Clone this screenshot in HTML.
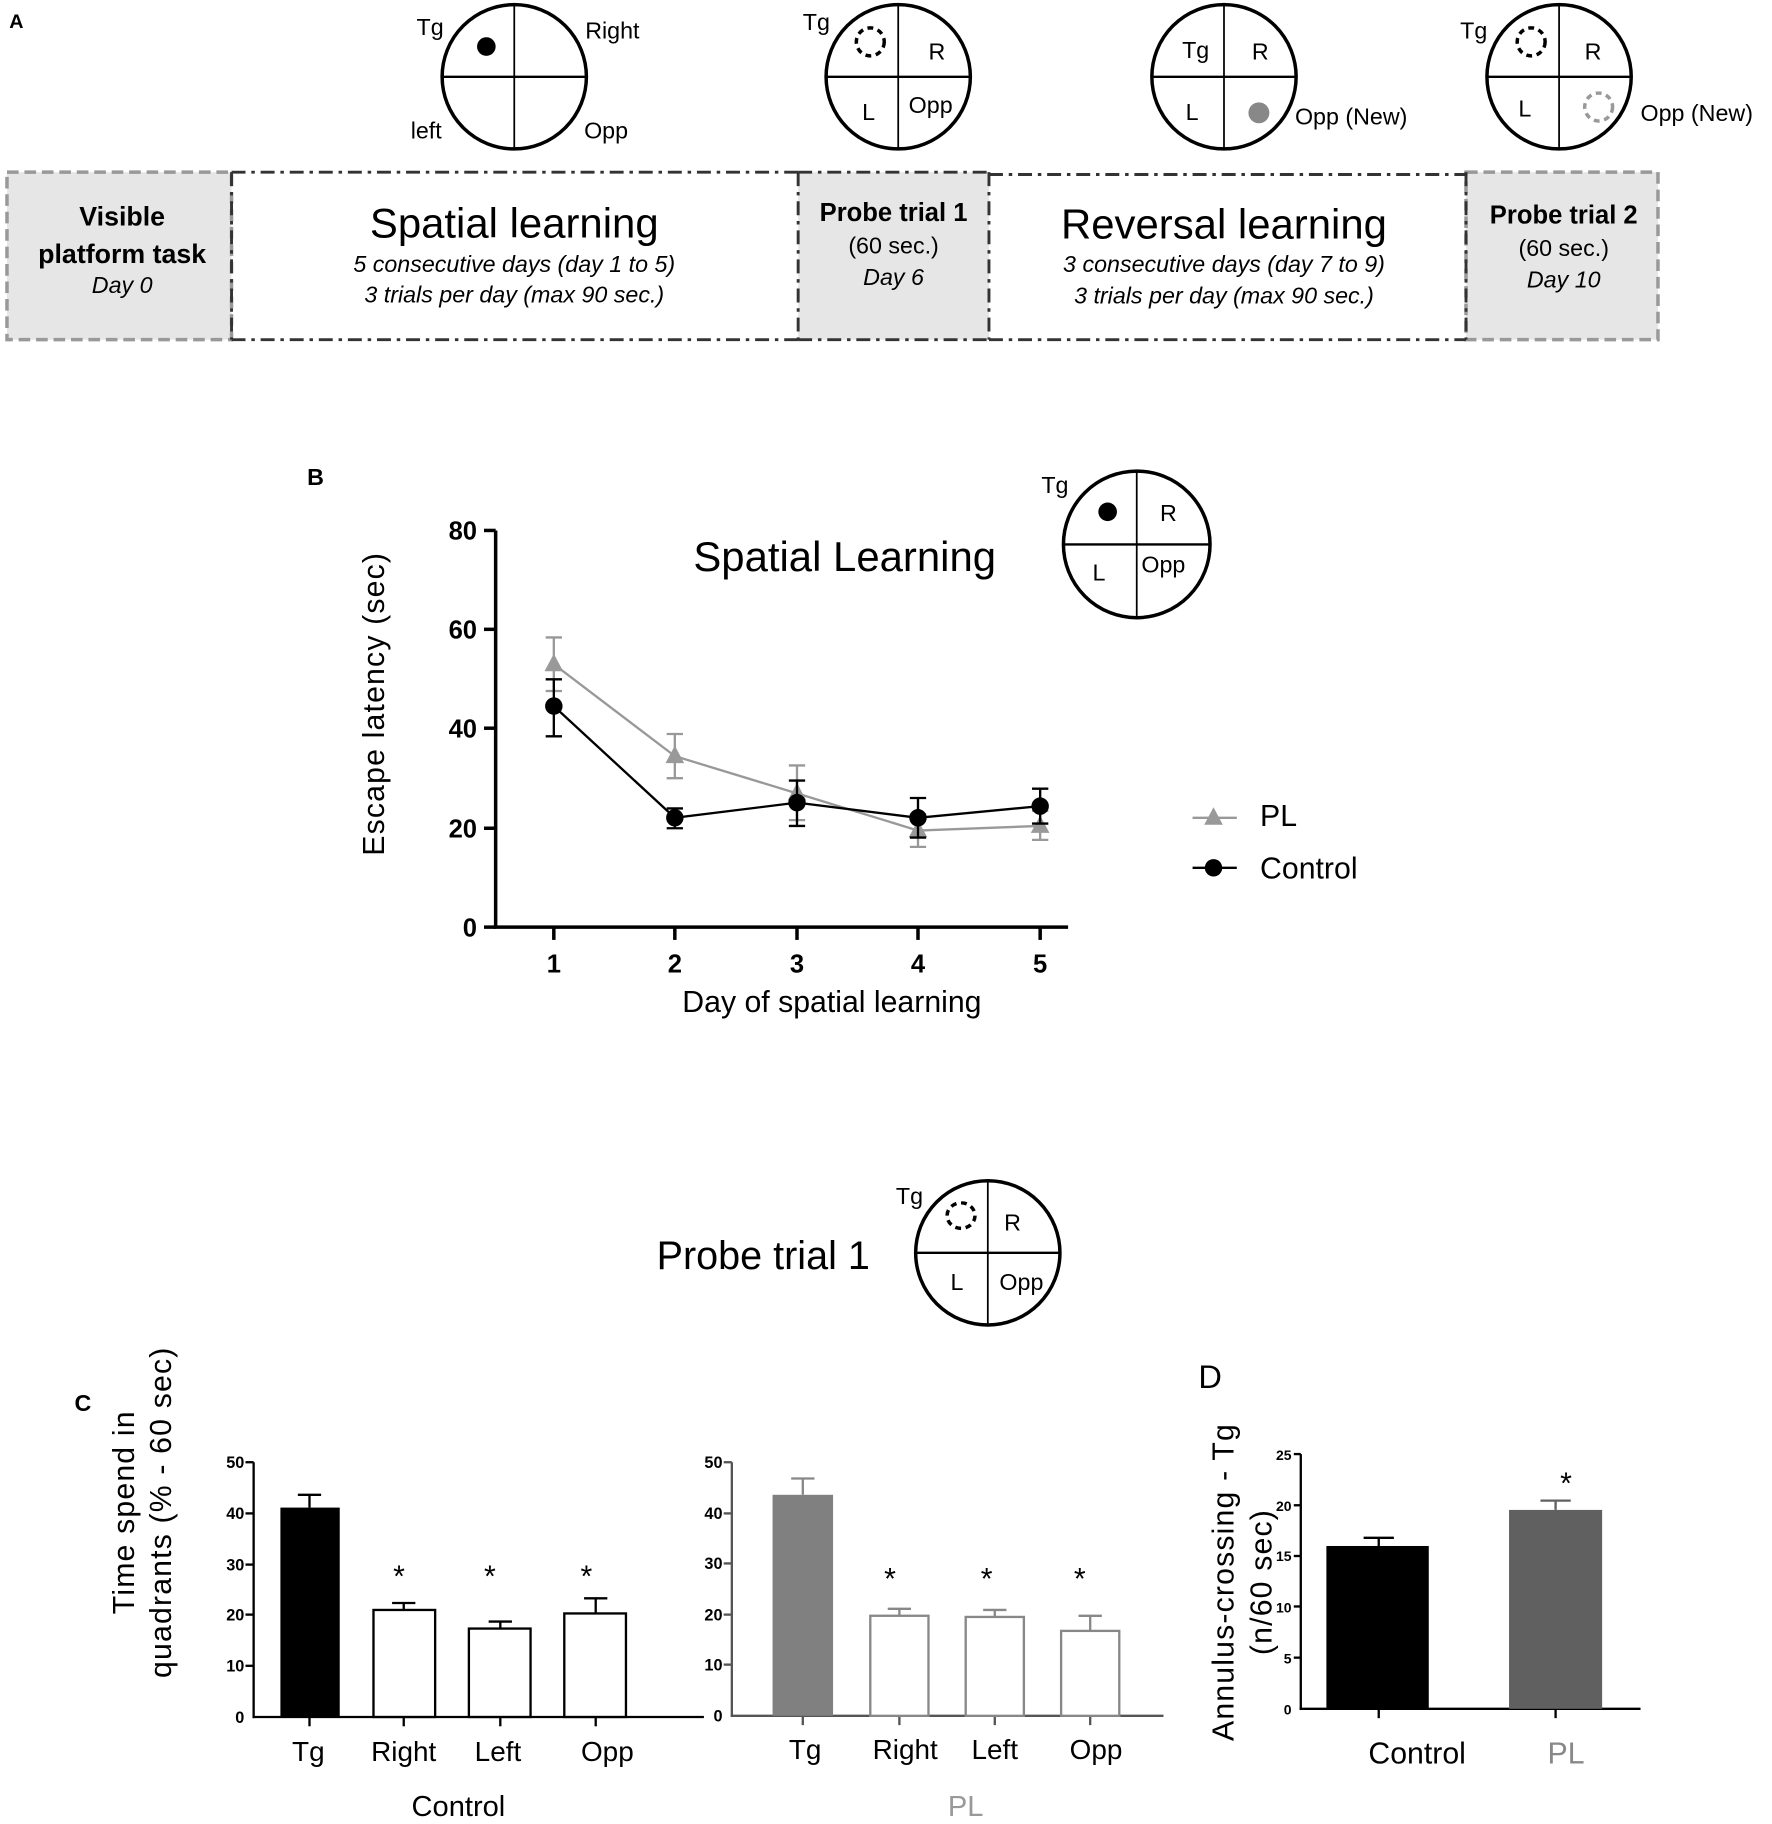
<!DOCTYPE html>
<html><head><meta charset="utf-8"><style>
html,body{margin:0;padding:0;background:#fff;}
svg{display:block;}
text{font-family:"Liberation Sans",Arial,sans-serif;}
</style></head><body>
<svg width="1772" height="1824" viewBox="0 0 1523 1568" preserveAspectRatio="none" xmlns="http://www.w3.org/2000/svg">
<rect width="1523" height="1568" fill="#fff"/>
<!-- Panel A -->
<text x="8" y="24" font-size="17" font-weight="bold">A</text>
<g stroke="#000" fill="none">
<circle cx="442" cy="66" r="62" stroke-width="3"/><line x1="380" y1="66" x2="504" y2="66" stroke-width="2"/><line x1="442" y1="4" x2="442" y2="128" stroke-width="1.5"/>
<circle cx="772" cy="66" r="62" stroke-width="3"/><line x1="710" y1="66" x2="834" y2="66" stroke-width="2"/><line x1="772" y1="4" x2="772" y2="128" stroke-width="1.5"/>
<circle cx="1052" cy="66" r="62" stroke-width="3"/><line x1="990" y1="66" x2="1114" y2="66" stroke-width="2"/><line x1="1052" y1="4" x2="1052" y2="128" stroke-width="1.5"/>
<circle cx="1340" cy="66" r="62" stroke-width="3"/><line x1="1278" y1="66" x2="1402" y2="66" stroke-width="2"/><line x1="1340" y1="4" x2="1340" y2="128" stroke-width="1.5"/>
<circle cx="748" cy="36" r="12" stroke-width="3" stroke-dasharray="5,4"/>
<circle cx="1316" cy="36" r="12" stroke-width="3" stroke-dasharray="5,4"/>
<circle cx="1374" cy="92" r="12" stroke-width="3" stroke-dasharray="5,4" stroke="#999"/>
</g>
<circle cx="418" cy="40" r="8" fill="#000"/>
<circle cx="1082" cy="97" r="9" fill="#888"/>
<g font-size="20">
<text x="358" y="30">Tg</text><text x="503" y="33">Right</text><text x="353" y="119">left</text><text x="502" y="119">Opp</text>
<text x="690" y="26">Tg</text><text x="798" y="51">R</text><text x="741" y="103">L</text><text x="781" y="97">Opp</text>
<text x="1016" y="50">Tg</text><text x="1076" y="51">R</text><text x="1019" y="103">L</text><text x="1113" y="107">Opp (New)</text>
<text x="1255" y="33">Tg</text><text x="1362" y="51">R</text><text x="1305" y="100">L</text><text x="1410" y="104">Opp (New)</text>
</g>
<rect x="6" y="148" width="193" height="144" fill="#e6e6e6" stroke="#999" stroke-width="3" stroke-dasharray="10,5"/>
<rect x="686" y="148" width="164" height="144" fill="#e6e6e6"/>
<rect x="1260" y="148" width="165" height="144" fill="#e6e6e6" stroke="#999" stroke-width="3" stroke-dasharray="10,5"/>
<g stroke="#333" stroke-width="2.5" fill="none" stroke-dasharray="12,5,3,5">
<line x1="199" y1="148" x2="686" y2="148"/><line x1="199" y1="292" x2="686" y2="292"/>
<line x1="850" y1="150" x2="1260" y2="150"/><line x1="850" y1="292" x2="1260" y2="292"/>
<line x1="199" y1="148" x2="199" y2="292"/><line x1="686" y1="148" x2="686" y2="292"/>
<line x1="850" y1="148" x2="850" y2="292"/><line x1="1260" y1="148" x2="1260" y2="292"/>
<line x1="686" y1="148" x2="850" y2="148"/><line x1="686" y1="292" x2="850" y2="292"/>
</g>
<g text-anchor="middle">
<text x="105" y="194" font-size="23" font-weight="bold">Visible</text>
<text x="105" y="226" font-size="23" font-weight="bold">platform task</text>
<text x="105" y="252" font-size="20" font-style="italic">Day 0</text>
<text x="442" y="204" font-size="36">Spatial learning</text>
<text x="442" y="234" font-size="20" font-style="italic">5 consecutive days (day 1 to 5)</text>
<text x="442" y="260" font-size="20" font-style="italic">3 trials per day (max 90 sec.)</text>
<text x="768" y="190" font-size="22" font-weight="bold">Probe trial 1</text>
<text x="768" y="218" font-size="20">(60 sec.)</text>
<text x="768" y="245" font-size="20" font-style="italic">Day 6</text>
<text x="1052" y="205" font-size="36">Reversal learning</text>
<text x="1052" y="234" font-size="20" font-style="italic">3 consecutive days (day 7 to 9)</text>
<text x="1052" y="261" font-size="20" font-style="italic">3 trials per day (max 90 sec.)</text>
<text x="1344" y="192" font-size="22" font-weight="bold">Probe trial 2</text>
<text x="1344" y="220" font-size="20">(60 sec.)</text>
<text x="1344" y="247" font-size="20" font-style="italic">Day 10</text>
</g>
<!-- Panel B -->
<text x="264" y="417" font-size="20" font-weight="bold">B</text>
<g stroke="#000" stroke-width="3"><line x1="426" y1="456" x2="426" y2="798"/><line x1="424" y1="797" x2="918" y2="797"/>
<line x1="416" y1="456" x2="426" y2="456"/><line x1="416" y1="541" x2="426" y2="541"/><line x1="416" y1="626" x2="426" y2="626"/><line x1="416" y1="712" x2="426" y2="712"/><line x1="416" y1="797" x2="426" y2="797"/>
<line x1="476" y1="797" x2="476" y2="808"/><line x1="580" y1="797" x2="580" y2="808"/><line x1="685" y1="797" x2="685" y2="808"/><line x1="789" y1="797" x2="789" y2="808"/><line x1="894" y1="797" x2="894" y2="808"/></g>
<g font-size="22" font-weight="bold" text-anchor="end"><text x="410" y="464">80</text><text x="410" y="549">60</text><text x="410" y="634">40</text><text x="410" y="720">20</text><text x="410" y="805">0</text></g>
<g font-size="22" font-weight="bold" text-anchor="middle"><text x="476" y="836">1</text><text x="580" y="836">2</text><text x="685" y="836">3</text><text x="789" y="836">4</text><text x="894" y="836">5</text></g>
<text x="715" y="870" font-size="26" text-anchor="middle">Day of spatial learning</text>
<text transform="translate(330,605) rotate(-90)" font-size="26" text-anchor="middle" letter-spacing="1">Escape latency (sec)</text>
<text x="726" y="491" font-size="36" text-anchor="middle">Spatial Learning</text>
<g stroke="#000" fill="none"><circle cx="977" cy="468" r="63" stroke-width="3"/><line x1="914" y1="468" x2="1040" y2="468" stroke-width="2"/><line x1="977" y1="405" x2="977" y2="531" stroke-width="1.5"/></g>
<circle cx="952" cy="440" r="8" fill="#000"/>
<g font-size="20"><text x="895" y="424">Tg</text><text x="997" y="448">R</text><text x="939" y="499">L</text><text x="981" y="492">Opp</text></g>
<!-- PL series -->
<g stroke="#999" stroke-width="2" fill="none">
<polyline points="476,571 580,650 685,682 789,714 894,710"/>
<line x1="476" y1="548" x2="476" y2="594"/><line x1="469" y1="548" x2="483" y2="548"/><line x1="469" y1="594" x2="483" y2="594"/>
<line x1="580" y1="631" x2="580" y2="669"/><line x1="573" y1="631" x2="587" y2="631"/><line x1="573" y1="669" x2="587" y2="669"/>
<line x1="685" y1="658" x2="685" y2="705"/><line x1="678" y1="658" x2="692" y2="658"/><line x1="678" y1="705" x2="692" y2="705"/>
<line x1="789" y1="700" x2="789" y2="728"/><line x1="782" y1="700" x2="796" y2="700"/><line x1="782" y1="728" x2="796" y2="728"/>
<line x1="894" y1="697" x2="894" y2="722"/><line x1="887" y1="697" x2="901" y2="697"/><line x1="887" y1="722" x2="901" y2="722"/>
</g>
<g fill="#999"><polygon points="476,562 468,577 484,577"/><polygon points="580,641 572,656 588,656"/><polygon points="685,673 677,688 693,688"/><polygon points="789,705 781,720 797,720"/><polygon points="894,701 886,716 902,716"/></g>
<!-- Control series -->
<g stroke="#000" stroke-width="2" fill="none">
<polyline points="476,607 580,703 685,690 789,703 894,693"/>
<line x1="476" y1="584" x2="476" y2="633"/><line x1="469" y1="584" x2="483" y2="584"/><line x1="469" y1="633" x2="483" y2="633"/>
<line x1="580" y1="695" x2="580" y2="712"/><line x1="573" y1="695" x2="587" y2="695"/><line x1="573" y1="712" x2="587" y2="712"/>
<line x1="685" y1="671" x2="685" y2="710"/><line x1="678" y1="671" x2="692" y2="671"/><line x1="678" y1="710" x2="692" y2="710"/>
<line x1="789" y1="686" x2="789" y2="720"/><line x1="782" y1="686" x2="796" y2="686"/><line x1="782" y1="720" x2="796" y2="720"/>
<line x1="894" y1="678" x2="894" y2="708"/><line x1="887" y1="678" x2="901" y2="678"/><line x1="887" y1="708" x2="901" y2="708"/>
</g>
<g fill="#000"><circle cx="476" cy="607" r="7.5"/><circle cx="580" cy="703" r="7.5"/><circle cx="685" cy="690" r="7.5"/><circle cx="789" cy="703" r="7.5"/><circle cx="894" cy="693" r="7.5"/></g>
<!-- legend -->
<line x1="1025" y1="703" x2="1063" y2="703" stroke="#999" stroke-width="2"/><polygon points="1043,694 1035,709 1051,709" fill="#999"/>
<text x="1083" y="710" font-size="26">PL</text>
<line x1="1025" y1="746" x2="1063" y2="746" stroke="#000" stroke-width="2"/><circle cx="1043" cy="746" r="7.5"/>
<text x="1083" y="755" font-size="26">Control</text>
<!-- Probe trial 1 header -->
<text x="656" y="1091" font-size="34" text-anchor="middle">Probe trial 1</text>
<g stroke="#000" fill="none"><circle cx="849" cy="1077" r="62" stroke-width="3"/><line x1="787" y1="1077" x2="911" y2="1077" stroke-width="2"/><line x1="849" y1="1015" x2="849" y2="1139" stroke-width="1.5"/>
<ellipse cx="826" cy="1045" rx="12" ry="11" stroke-width="3" stroke-dasharray="5,4"/></g>
<g font-size="20"><text x="770" y="1035">Tg</text><text x="863" y="1058">R</text><text x="817" y="1109">L</text><text x="859" y="1109">Opp</text></g>
<!-- Panel C -->
<text x="64" y="1213" font-size="20" font-weight="bold">C</text>
<g stroke="#000" stroke-width="2"><line x1="218" y1="1257" x2="218" y2="1477"/><line x1="217" y1="1476" x2="605" y2="1476"/>
<line x1="211" y1="1257" x2="218" y2="1257"/><line x1="211" y1="1301" x2="218" y2="1301"/><line x1="211" y1="1345" x2="218" y2="1345"/><line x1="211" y1="1388" x2="218" y2="1388"/><line x1="211" y1="1432" x2="218" y2="1432"/>
<line x1="266" y1="1476" x2="266" y2="1484"/><line x1="347" y1="1476" x2="347" y2="1484"/><line x1="430" y1="1476" x2="430" y2="1484"/><line x1="512" y1="1476" x2="512" y2="1484"/></g>
<g font-size="14" font-weight="bold" text-anchor="end"><text x="210" y="1262">50</text><text x="210" y="1306">40</text><text x="210" y="1350">30</text><text x="210" y="1393">20</text><text x="210" y="1437">10</text><text x="210" y="1481">0</text></g>
<rect x="241" y="1296" width="51" height="180" fill="#000"/>
<g stroke="#000" stroke-width="2" fill="#fff">
<line x1="266" y1="1296" x2="266" y2="1285"/><line x1="256" y1="1285" x2="276" y2="1285"/>
<line x1="347" y1="1384" x2="347" y2="1378"/><line x1="337" y1="1378" x2="357" y2="1378"/>
<line x1="430" y1="1400" x2="430" y2="1394"/><line x1="420" y1="1394" x2="440" y2="1394"/>
<line x1="512" y1="1387" x2="512" y2="1374"/><line x1="502" y1="1374" x2="522" y2="1374"/>
<rect x="321" y="1384" width="53" height="92"/><rect x="403" y="1400" width="53" height="76"/><rect x="485" y="1387" width="53" height="89"/>
</g>
<g font-size="26" text-anchor="middle"><text x="343" y="1364">*</text><text x="421" y="1364">*</text><text x="504" y="1364">*</text></g>
<g font-size="24" text-anchor="middle"><text x="265" y="1514">Tg</text><text x="347" y="1514">Right</text><text x="428" y="1514">Left</text><text x="522" y="1514">Opp</text></g>
<text x="394" y="1561" font-size="25" text-anchor="middle">Control</text>
<text transform="translate(115,1300) rotate(-90)" font-size="26" text-anchor="middle" letter-spacing="1">Time spend in</text>
<text transform="translate(147,1300) rotate(-90)" font-size="26" text-anchor="middle" letter-spacing="1">quadrants (% - 60 sec)</text>
<!-- C2 -->
<g stroke="#555" stroke-width="2"><line x1="629" y1="1257" x2="629" y2="1476"/><line x1="628" y1="1475" x2="1000" y2="1475"/>
<line x1="622" y1="1257" x2="629" y2="1257"/><line x1="622" y1="1301" x2="629" y2="1301"/><line x1="622" y1="1344" x2="629" y2="1344"/><line x1="622" y1="1388" x2="629" y2="1388"/><line x1="622" y1="1431" x2="629" y2="1431"/>
<line x1="690" y1="1475" x2="690" y2="1483"/><line x1="773" y1="1475" x2="773" y2="1483"/><line x1="855" y1="1475" x2="855" y2="1483"/><line x1="937" y1="1475" x2="937" y2="1483"/></g>
<g font-size="14" font-weight="bold" text-anchor="end"><text x="621" y="1262">50</text><text x="621" y="1306">40</text><text x="621" y="1349">30</text><text x="621" y="1393">20</text><text x="621" y="1436">10</text><text x="621" y="1480">0</text></g>
<rect x="664" y="1285" width="52" height="190" fill="#808080"/>
<g stroke="#888" stroke-width="2" fill="#fff">
<line x1="690" y1="1285" x2="690" y2="1271"/><line x1="680" y1="1271" x2="700" y2="1271"/>
<line x1="773" y1="1389" x2="773" y2="1383"/><line x1="763" y1="1383" x2="783" y2="1383"/>
<line x1="855" y1="1390" x2="855" y2="1384"/><line x1="845" y1="1384" x2="865" y2="1384"/>
<line x1="937" y1="1402" x2="937" y2="1389"/><line x1="927" y1="1389" x2="947" y2="1389"/>
<rect x="748" y="1389" width="50" height="86"/><rect x="830" y="1390" width="50" height="85"/><rect x="912" y="1402" width="50" height="73"/>
</g>
<g font-size="26" text-anchor="middle"><text x="765" y="1366">*</text><text x="848" y="1366">*</text><text x="928" y="1366">*</text></g>
<g font-size="24" text-anchor="middle"><text x="692" y="1512">Tg</text><text x="778" y="1512">Right</text><text x="855" y="1512">Left</text><text x="942" y="1512">Opp</text></g>
<text x="830" y="1561" font-size="25" text-anchor="middle" fill="#999">PL</text>
<!-- Panel D -->
<text x="1030" y="1193" font-size="28">D</text>
<g stroke="#000" stroke-width="2"><line x1="1118" y1="1250" x2="1118" y2="1470"/><line x1="1117" y1="1469" x2="1410" y2="1469"/>
<line x1="1112" y1="1250" x2="1118" y2="1250"/><line x1="1112" y1="1294" x2="1118" y2="1294"/><line x1="1112" y1="1337.6" x2="1118" y2="1337.6"/><line x1="1112" y1="1381" x2="1118" y2="1381"/><line x1="1112" y1="1425" x2="1118" y2="1425"/>
<line x1="1185" y1="1469" x2="1185" y2="1477"/><line x1="1337" y1="1469" x2="1337" y2="1477"/></g>
<g font-size="12" font-weight="bold" text-anchor="end"><text x="1110" y="1255">25</text><text x="1110" y="1299">20</text><text x="1110" y="1342">15</text><text x="1110" y="1386">10</text><text x="1110" y="1430">5</text><text x="1110" y="1474">0</text></g>
<rect x="1140" y="1329" width="88" height="140" fill="#000"/>
<rect x="1297" y="1298" width="80" height="171" fill="#606060"/>
<g stroke-width="2"><line x1="1185" y1="1329" x2="1185" y2="1322" stroke="#000"/><line x1="1172" y1="1322" x2="1198" y2="1322" stroke="#000"/>
<line x1="1337" y1="1298" x2="1337" y2="1290" stroke="#606060"/><line x1="1324" y1="1290" x2="1350" y2="1290" stroke="#606060"/></g>
<text x="1346" y="1284" font-size="26" text-anchor="middle">*</text>
<text x="1218" y="1516" font-size="26" text-anchor="middle">Control</text>
<text x="1346" y="1516" font-size="26" text-anchor="middle" fill="#888">PL</text>
<text transform="translate(1060,1360) rotate(-90)" font-size="26" text-anchor="middle" letter-spacing="1">Annulus-crossing - Tg</text>
<text transform="translate(1093,1360) rotate(-90)" font-size="26" text-anchor="middle" letter-spacing="1">(n/60 sec)</text>
</svg>
</body></html>
